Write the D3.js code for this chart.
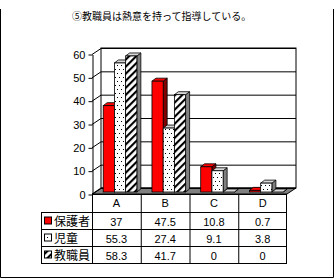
<!DOCTYPE html>
<html>
<head>
<meta charset="utf-8">
<script src="https://cdn.jsdelivr.net/npm/d3@7"></script>
<style>
  body { margin: 0; background: #fff; }
  svg { display: block; font-family: Arial, "Liberation Sans", sans-serif; }
  .jp { font-family: "Noto Sans CJK JP", sans-serif; }
</style>
</head>
<body>
<div id="chart"></div>
<script>
// data
const title = "⑤教職員は熱意を持って指導している。";
const categories = ["A", "B", "C", "D"];
const seriesNames = ["保護者", "児童", "教職員"];
const parents = [37, 47.5, 10.8, 0.7];
const children = [55.3, 27.4, 9.1, 3.8];
const staff = [58.3, 41.7, 0, 0];
const yTicks = [0, 10, 20, 30, 40, 50, 60];

const width = 336, height = 279;
const series = [parents, children, staff];

const svg = d3.select("#chart").append("svg")
    .attr("width", width)
    .attr("height", height);

// patterns
const defs = svg.append("defs");
const dots = defs.append("pattern")
    .attr("id", "dots")
    .attr("patternUnits", "userSpaceOnUse")
    .attr("width", 4).attr("height", 8);
dots.append("rect").attr("width", 4).attr("height", 8).attr("fill", "#fff");
dots.append("rect").attr("x", 1).attr("y", 1).attr("width", 1).attr("height", 1).attr("fill", "#000");
dots.append("rect").attr("x", 3).attr("y", 5).attr("width", 1).attr("height", 1).attr("fill", "#000");

const hatch = defs.append("pattern")
    .attr("id", "hatch")
    .attr("patternUnits", "userSpaceOnUse")
    .attr("width", 5).attr("height", 5)
    .attr("patternTransform", "rotate(45)");
hatch.append("rect").attr("width", 5).attr("height", 5).attr("fill", "#fff");
hatch.append("line").attr("x1", 1).attr("y1", 0).attr("x2", 1).attr("y2", 5)
    .attr("stroke", "#000").attr("stroke-width", 2.2);

const frontFill = ["#ff0000", "url(#dots)", "url(#hatch)"];
const topFill = ["#ff0000", "#d8d8d8", "#d8d8d8"];
const sideFill = ["#800000", "#808080", "#808080"];

// outer frame
svg.append("path")
    .attr("d", `M0.5,9 V${height - 1.5} H${width - 2.5} V9`)
    .attr("fill", "none").attr("stroke", "#000");

svg.append("text")
    .attr("class", "jp")
    .attr("x", 72).attr("y", 20)
    .style("font-size", "10px")
    .text(title);

// scales
const x = d3.scaleBand().domain(categories).range([92, 287]);
const y = d3.scaleLinear().domain([0, 60]).range([194, 54]);
const xs = d3.scaleBand().domain(d3.range(3))
    .range([x.bandwidth() * 0.23, x.bandwidth() * 0.92]);

const dx = 9, dy = -6;      // floor depth
const bdx = 4, bdy = -3;    // bar depth
const lift = -2;            // bars sit slightly back on the floor

// walls
svg.append("rect")
    .attr("x", x.range()[0] + dx).attr("y", y(60) + dy)
    .attr("width", x.range()[1] - x.range()[0])
    .attr("height", y(0) - y(60))
    .attr("fill", "#fff").attr("stroke", "#000");

svg.append("polygon")
    .attr("points", [[92, y(0)], [287, y(0)], [287 + dx, y(0) + dy], [92 + dx, y(0) + dy]].join(" "))
    .attr("fill", "#808080").attr("stroke", "#000");

yTicks.forEach(t => {
    svg.append("line")
        .attr("x1", 92 + dx).attr("x2", 287 + dx)
        .attr("y1", y(t) + dy + 0.5).attr("y2", y(t) + dy + 0.5)
        .attr("stroke", "#000");
    svg.append("line")
        .attr("x1", 92).attr("y1", y(t) + 0.5)
        .attr("x2", 92 + dx).attr("y2", y(t) + dy + 0.5)
        .attr("stroke", "#000");
});

// y axis
const yAxis = svg.append("g")
    .attr("transform", "translate(92.5,0.5)")
    .call(d3.axisLeft(y).tickValues(yTicks).tickSize(4).tickSizeOuter(0));
yAxis.select(".domain").attr("stroke", "#000");
yAxis.selectAll("text")
    .style("font-size", "11px")
    .style("font-family", "Arial, 'Liberation Sans', sans-serif")
    .attr("fill", "#000");

// bars
categories.forEach((c, j) => {
    series.forEach((vals, i) => {
        const x0 = x(c) + xs(i);
        const x1 = x0 + xs.bandwidth();
        const yb = y(0) + lift;
        const yt = y(vals[j]) + lift;
        const g = svg.append("g").attr("stroke", "#000").attr("stroke-width", 0.8);
        g.append("polygon")
            .attr("points", [[x1, yb], [x1 + bdx, yb + bdy], [x1 + bdx, yt + bdy], [x1, yt]].join(" "))
            .attr("fill", sideFill[i]);
        g.append("polygon")
            .attr("points", [[x0, yt], [x1, yt], [x1 + bdx, yt + bdy], [x0 + bdx, yt + bdy]].join(" "))
            .attr("fill", topFill[i]);
        g.append("rect")
            .attr("x", x0).attr("y", yt)
            .attr("width", x1 - x0).attr("height", yb - yt)
            .attr("fill", frontFill[i]);
    });
});

// data table
const rowTop = 212, rowH = 17, left = 41;
const rows = d3.scaleBand().domain(d3.range(3)).range([rowTop, rowTop + rowH * 3]);
const table = svg.append("g");

table.append("line")
    .attr("x1", 92).attr("x2", 287).attr("y1", y(0) + 0.5).attr("y2", y(0) + 0.5)
    .attr("stroke", "#000");
d3.range(4).forEach(r => {
    table.append("line")
        .attr("x1", left + 0.5).attr("x2", 287)
        .attr("y1", rowTop + r * rowH + 0.5).attr("y2", rowTop + r * rowH + 0.5)
        .attr("stroke", "#000");
});
table.append("line")
    .attr("x1", left + 0.5).attr("x2", left + 0.5)
    .attr("y1", rowTop).attr("y2", rowTop + rowH * 3 + 1)
    .attr("stroke", "#000");
categories.concat(["end"]).forEach((c, k) => {
    const xx = c === "end" ? 286.5 : x(c) + 0.5;
    table.append("line")
        .attr("x1", xx).attr("x2", xx)
        .attr("y1", y(0)).attr("y2", rowTop + rowH * 3 + 1)
        .attr("stroke", "#000");
});

categories.forEach(c => {
    table.append("text")
        .attr("x", x(c) + x.bandwidth() / 2).attr("y", 207)
        .attr("text-anchor", "middle")
        .style("font-size", "11px")
        .text(c);
});

series.forEach((vals, i) => {
    const cy = rows(i) + rowH / 2 + 1;
    table.append("rect")
        .attr("x", 44.5).attr("y", cy - 4.5)
        .attr("width", 7).attr("height", 7)
        .attr("fill", frontFill[i]).attr("stroke", "#000");
    table.append("text")
        .attr("class", "jp")
        .attr("x", 54).attr("y", cy + 4.5)
        .style("font-size", "12px")
        .text(seriesNames[i]);
    vals.forEach((v, j) => {
        table.append("text")
            .attr("x", x(categories[j]) + x.bandwidth() / 2).attr("y", cy + 4)
            .attr("text-anchor", "middle")
            .style("font-size", "11px")
            .text(v);
    });
});
</script>
</body>
</html>
